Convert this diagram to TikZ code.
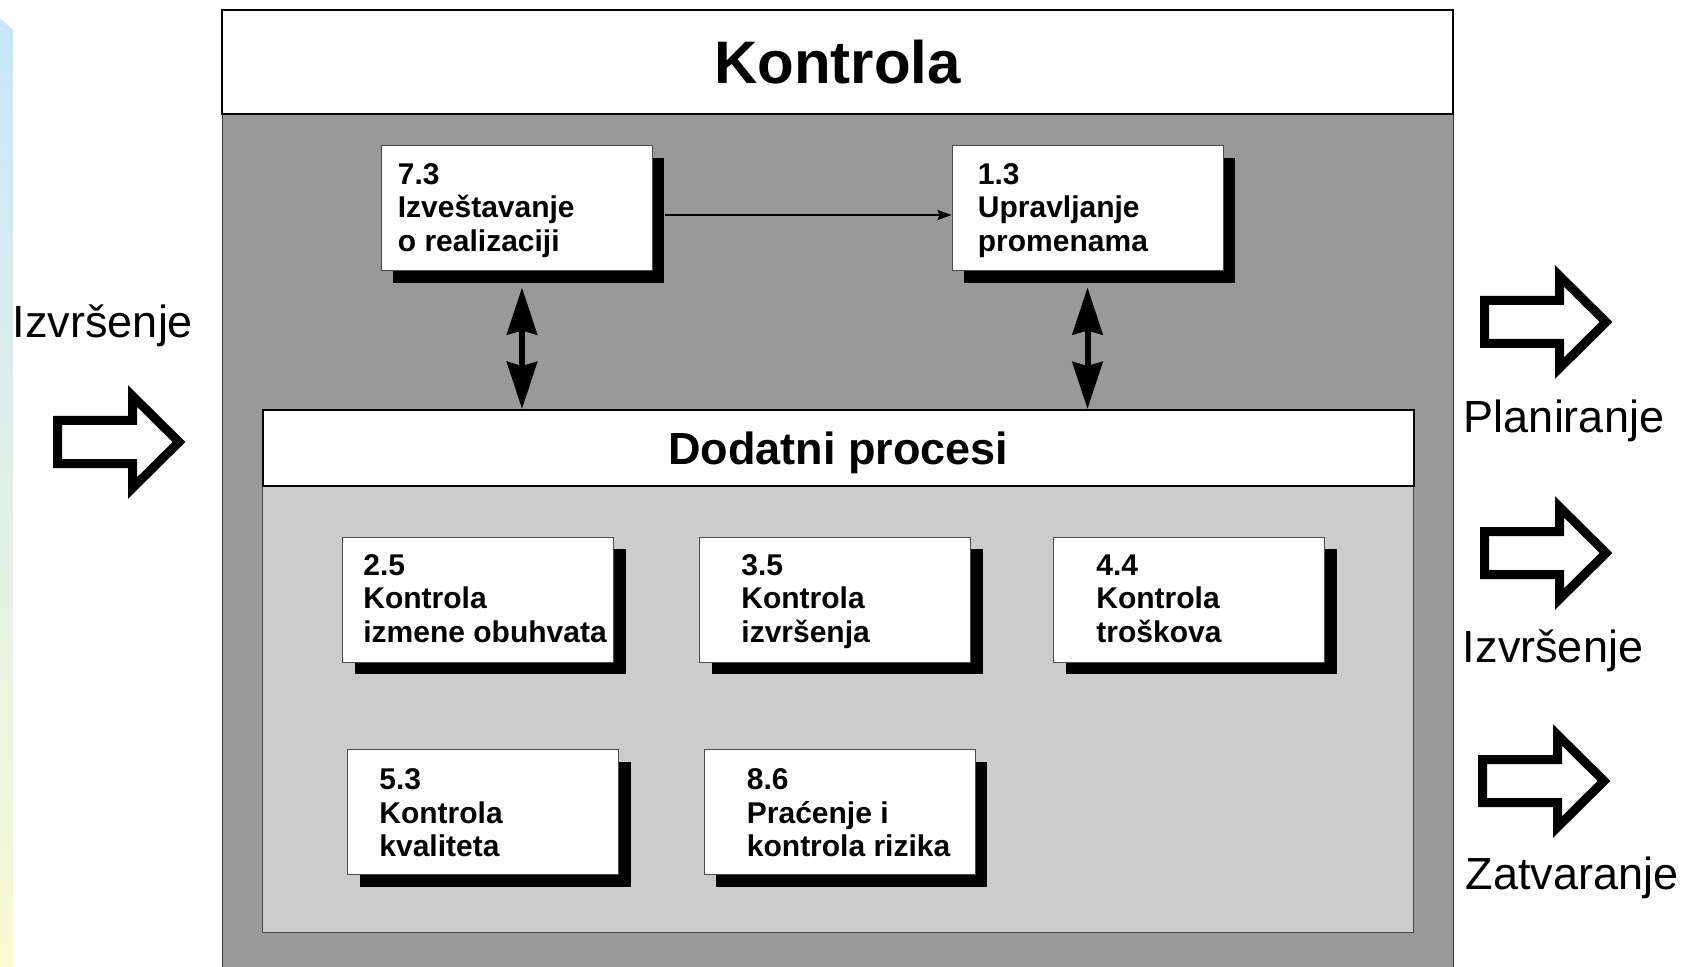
\documentclass[tikz,border=0pt]{standalone}
\usepackage{fontspec}
\setmainfont{Liberation Sans}
\usetikzlibrary{arrows.meta,shadows,calc}
\definecolor{outergray}{HTML}{999999}
\definecolor{innergray}{HTML}{CCCCCC}
\definecolor{stripblue}{HTML}{C8E6FA}
\definecolor{stripyellow}{HTML}{F8FAD4}
\tikzset{
  procbox/.style={rectangle, draw=gray!60!black, line width=0.5pt, fill=white,
    minimum width=135.5pt, minimum height=62.5pt, inner sep=0pt,
    drop shadow={shadow xshift=6pt, shadow yshift=-6pt, fill=black, opacity=1}},
  proctext/.style={anchor=west, align=left, inner sep=0pt, yshift=-1pt,
    font=\fontsize{15pt}{16.7pt}\selectfont\bfseries},
  sidelabel/.style={inner sep=0pt, font=\fontsize{22.5pt}{27pt}\selectfont},
  dblarrow/.style={line width=3pt, {Stealth[length=23.5pt,width=15pt,inset=2pt]}-{Stealth[length=23.5pt,width=15pt,inset=2pt]}},
  harrow/.style={line width=1pt, -{Stealth[length=7pt,width=5pt,inset=1pt]}},
  barrow/.pic={\draw[line width=4.5pt, fill=white, miter limit=10]
     (0,-21.5) -- (75,-21.5) -- (75,-46) -- (121.5,0) -- (75,46) -- (75,21.5) -- (0,21.5) -- cycle;}
}
\begin{document}
\begin{tikzpicture}[x=0.5pt,y=-0.5pt]
\useasboundingbox (0,0) rectangle (1684,967);
\fill[white] (0,0) rectangle (1684,967);
% left decorative strip
\shade[top color=stripblue, bottom color=stripyellow] (0,18) -- (13,30) -- (13,967) -- (0,967) -- cycle;

% outer gray frame
\node[anchor=north west, fill=outergray, draw=gray!40!black, line width=0.6pt,
      minimum width=615.5pt, minimum height=432pt, inner sep=0pt] (outer) at (222,114) {};
% title
\node[draw=black, line width=1.2pt, fill=white, minimum width=615.5pt, minimum height=52pt,
      inner sep=0pt, font=\fontsize{30pt}{36pt}\selectfont\bfseries] (title) at (837.5,62) {Kontrola};

% inner light region and header
\node[anchor=north west, fill=innergray, draw=gray!55!black, line width=0.6pt,
      minimum width=575.5pt, minimum height=261.5pt, inner sep=0pt] (inner) at (262,409) {};
\node[anchor=north west, fill=white, draw=black, line width=0.8pt,
      minimum width=575.5pt, minimum height=38pt, inner sep=0pt] (hdr) at (262,409) {};
\node[font=\fontsize{22.5pt}{27pt}\selectfont\bfseries, inner sep=0pt] (hdrtext) at ([yshift=-2.5pt]hdr.center) {Dodatni procesi};

% process boxes
\node[procbox] (b73) at (516.5,208.5) {};
\node[proctext] (t73) at ([xshift=8.5pt]b73.west) {7.3\\Izveštavanje\\o realizaciji\vphantom{j}};
\node[procbox] (b13) at (1087.5,208.5) {};
\node[proctext] (t13) at ([xshift=13pt]b13.west) {1.3\\Upravljanje\\promenama\vphantom{j}};

\node[procbox] (b25) at (478,599.5) {};
\node[proctext] (t25) at ([xshift=10.5pt]b25.west) {2.5\\Kontrola\\izmene obuhvata\vphantom{j}};
\node[procbox] (b35) at (835,599.5) {};
\node[proctext] (t35) at ([xshift=21pt]b35.west) {3.5\\Kontrola\\izvršenja\vphantom{j}};
\node[procbox] (b44) at (1189,599.5) {};
\node[proctext] (t44) at ([xshift=21.5pt]b44.west) {4.4\\Kontrola\\troškova\vphantom{j}};
\node[procbox] (b53) at (483,812) {};
\node[proctext] (t53) at ([xshift=16pt,yshift=-1pt]b53.west) {5.3\\Kontrola\\kvaliteta\vphantom{j}};
\node[procbox] (b86) at (839.5,812) {};
\node[proctext] (t86) at ([xshift=21.5pt,yshift=-1pt]b86.west) {8.6\\Praćenje i\\kontrola rizika\vphantom{j}};

% connectors
\draw[harrow] ([xshift=6pt,yshift=-3.25pt]b73.east) -- ([yshift=-3.25pt]b13.west);
\coordinate (d1) at ([xshift=2.75pt,yshift=-8pt]b73.south);
\coordinate (d2) at ([yshift=-8pt]b13.south);
\draw[dblarrow] (d1) -- (d1 |- hdr.north);
\draw[dblarrow] (d2) -- (d2 |- hdr.north);

% side arrows and labels
\node[sidelabel] (lin) at (103,326) {Izvršenje};
\pic at (57.5,442) {barrow};
\pic at (1484.5,322) {barrow};
\node[sidelabel] (lplan) at (1564,421) {Planiranje};
\pic at (1484.5,553) {barrow};
\node[sidelabel] (lizv) at (1553,651) {Izvršenje};
\pic at (1482.5,781) {barrow};
\node[sidelabel] (lzat) at (1572,878) {Zatvaranje};
\end{tikzpicture}
\end{document}
